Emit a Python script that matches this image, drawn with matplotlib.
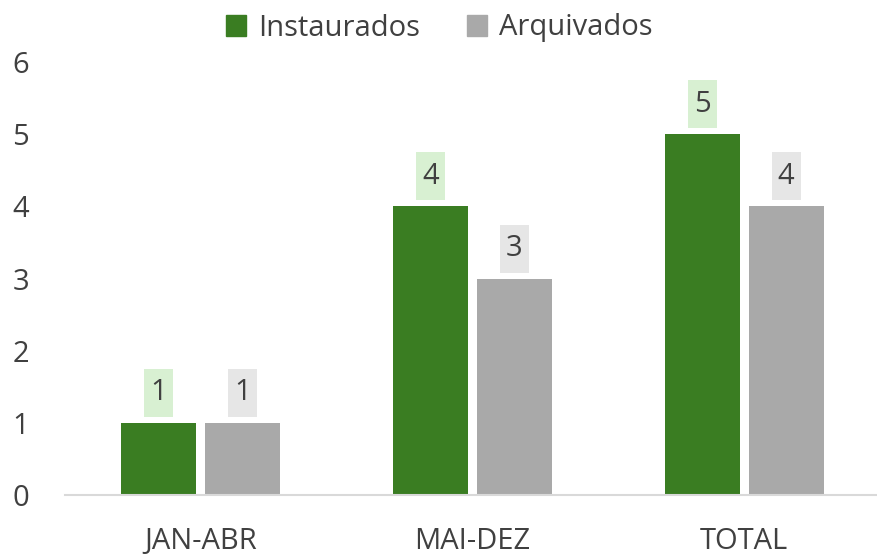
import numpy as np
import matplotlib.pyplot as plt
from matplotlib.patches import Patch, Rectangle

categories = ['JAN-ABR', 'MAI-DEZ', 'TOTAL']
instaurados = [1, 4, 5]
arquivados = [1, 3, 4]

green = '#3a7d22'
gray = '#a9a9a9'
txt = '#404040'

plt.rcParams['font.family'] = ['Open Sans', 'DejaVu Sans']

fig = plt.figure(figsize=(8.78, 5.55), dpi=100)
W, H = 878, 555
ax = fig.add_axes([65 / W, (H - 495) / H, 815 / W, (495 - 62) / H])

x = np.arange(len(categories))
w = 0.276
off = (w + 0.033) / 2
b1 = ax.bar(x - off, instaurados, w, color=green, zorder=2)
b2 = ax.bar(x + off, arquivados, w, color=gray, zorder=2)

# label boxes (size in data units: ~29px wide, ~48px tall)
bw, bh, gap = 0.107, 0.665, 0.083
for bars, face in [(b1, '#d8f0d2'), (b2, '#e6e6e6')]:
    for r in bars:
        cx = r.get_x() + r.get_width() / 2
        h = r.get_height()
        ax.add_patch(Rectangle((cx - bw / 2, h + gap), bw, bh, fc=face, ec='none', clip_on=False))
        ax.text(cx, h + gap + bh / 2, str(int(h)), ha='center', va='center',
                fontsize=21, color=txt)

ax.set_xlim(-0.5, 2.5)
ax.set_ylim(0, 6)
ax.set_yticks(range(7))
ax.set_xticks(x)
ax.set_xticklabels(categories)
ax.tick_params(axis='both', length=0, labelsize=21, colors=txt)
ax.tick_params(axis='x', pad=23)
ax.tick_params(axis='y', pad=38)
for lab in ax.get_yticklabels():
    lab.set_horizontalalignment('left')
for s in ['top', 'right', 'left']:
    ax.spines[s].set_visible(False)
ax.spines['bottom'].set_color('#d9d9d9')
ax.spines['bottom'].set_linewidth(1.5)

handles = [Patch(color=green, label='Instaurados'), Patch(color=gray, label='Arquivados')]
fig.legend(handles=handles, loc='center', bbox_to_anchor=(0.5, 1 - 28 / H), ncol=2,
           frameon=False, fontsize=21, labelcolor=txt, handlelength=0.7, handleheight=0.7,
           handletextpad=0.4, columnspacing=1.6)

fig.savefig('out.png', dpi=100)
